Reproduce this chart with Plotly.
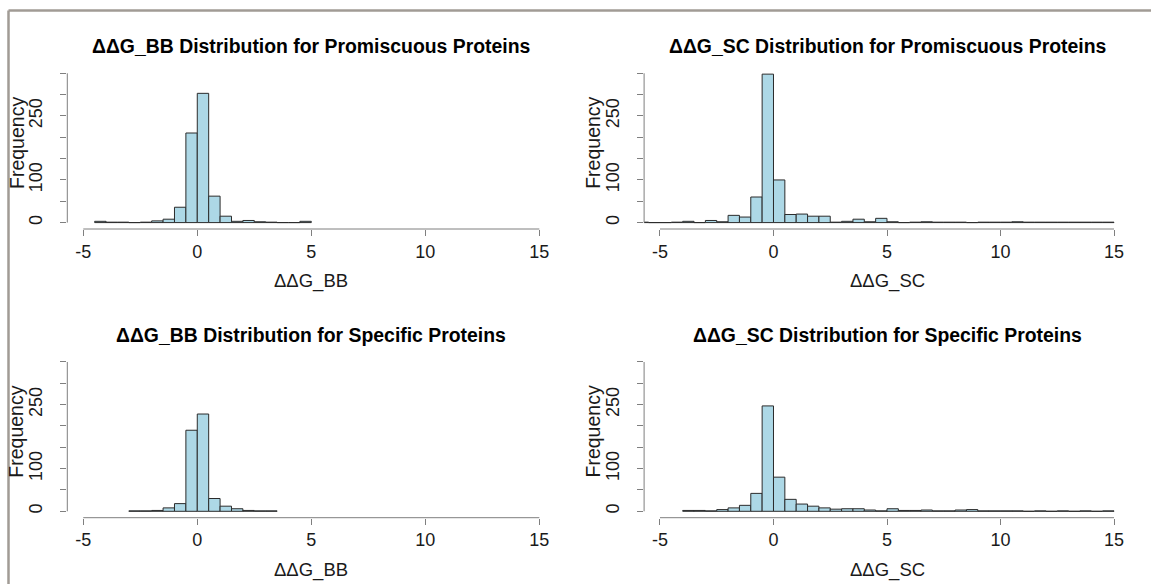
import plotly.graph_objects as go

W, H = 1151, 584
BIN_WIDTH = 0.5

# ---------------- data ----------------
titles = [
    "ΔΔG_BB Distribution for Promiscuous Proteins",
    "ΔΔG_SC Distribution for Promiscuous Proteins",
    "ΔΔG_BB Distribution for Specific Proteins",
    "ΔΔG_SC Distribution for Specific Proteins",
]
x_labels = ["ΔΔG_BB", "ΔΔG_SC", "ΔΔG_BB", "ΔΔG_SC"]
y_label = "Frequency"

# first bin left edge for each histogram
bb_prom_start = -4.5
bb_prom_counts = [3, 1, 1, 0, 1, 4, 8, 36, 210, 303, 62, 15, 3, 5, 2, 1, 0, 0, 3]

sc_prom_start = -6.0
sc_prom_counts = [1, 0, 0, 1, 3, 0, 5, 2, 17, 13, 60, 348, 100, 19, 20, 15, 15, 1,
                  3, 8, 2, 10, 2, 0, 1, 2, 1, 1, 1, 0, 1, 1, 1, 2, 1, 1, 1, 1,
                  1, 1, 1, 1]

bb_spec_start = -3.0
bb_spec_counts = [1, 1, 2, 8, 18, 190, 228, 30, 12, 6, 2, 1, 1]

sc_spec_start = -4.0
sc_spec_counts = [2, 2, 1, 4, 8, 14, 42, 247, 80, 28, 17, 12, 8, 5, 6, 6, 3, 1,
                  6, 2, 2, 3, 1, 1, 3, 4, 1, 1, 1, 1, 0, 1, 0, 1, 0, 1, 0, 1]

starts = [bb_prom_start, sc_prom_start, bb_spec_start, sc_spec_start]
counts = [bb_prom_counts, sc_prom_counts, bb_spec_counts, sc_spec_counts]

x_tick_vals = [-5, 0, 5, 10, 15]
x_tick_text = ["-5", "0", "5", "10", "15"]
y_tick_vals = [0, 50, 100, 150, 200, 250, 300, 350]
y_tick_text = ["0", "", "100", "", "", "250", "", ""]

# ---------------- layout geometry (pixels) ----------------
X_RANGE = [-5.7, 15.7]
Y_RANGE = [-15, 364]
col_px = [(67.3, 555.3), (644.1, 1129.9)]
row_px = [(67.3, 229.0), (356.0, 517.7)]

FONT = "Liberation Sans, Arial, Helvetica, sans-serif"
AXIS_COL = "#7f7f7f"
TEXT_COL = "#1a1a1a"

fig = go.Figure()
layout = dict(
    width=W, height=H,
    margin=dict(l=0, r=0, t=0, b=0),
    paper_bgcolor="white", plot_bgcolor="white",
    showlegend=False,
    font=dict(family=FONT, color=TEXT_COL),
)
annotations = []
shapes = []

for i in range(4):
    r, c = divmod(i, 2)
    s = "" if i == 0 else str(i + 1)
    x0p, x1p = col_px[c]
    ytop, ybot = row_px[r]

    centers = [starts[i] + BIN_WIDTH * (k + 0.5) for k in range(len(counts[i]))]
    fig.add_trace(go.Bar(
        x=centers, y=counts[i], width=BIN_WIDTH,
        marker=dict(color="#ADD8E6", line=dict(color="#2b2b2b", width=1)),
        xaxis="x" + s, yaxis="y" + s, hoverinfo="x+y",
    ))

    layout["xaxis" + s] = dict(
        domain=[x0p / W, x1p / W], range=X_RANGE, anchor="y" + s,
        tickmode="array", tickvals=x_tick_vals, ticktext=x_tick_text,
        ticks="outside", ticklen=6, tickcolor=AXIS_COL, tickwidth=1,
        showgrid=False, zeroline=False, showline=False,
        tickfont=dict(size=18, color=TEXT_COL, family=FONT),
        ticklabelstandoff=0,
    )
    layout["yaxis" + s] = dict(
        domain=[1 - ybot / H, 1 - ytop / H], range=Y_RANGE, anchor="x" + s,
        tickmode="array", tickvals=y_tick_vals, ticktext=y_tick_text,
        ticks="outside", ticklen=6, tickcolor=AXIS_COL, tickwidth=1,
        showgrid=False, zeroline=False, showline=False,
        tickangle=-90,
        tickfont=dict(size=18, color=TEXT_COL, family=FONT),
        ticklabelstandoff=11,
    )

    # R-style axis lines spanning only the tick range
    shapes.append(dict(type="line", xref="x" + s, yref="y" + s + " domain",
                       x0=x_tick_vals[0], x1=x_tick_vals[-1], y0=0, y1=0,
                       line=dict(color=AXIS_COL, width=1)))
    shapes.append(dict(type="line", xref="x" + s + " domain", yref="y" + s,
                       x0=0, x1=0, y0=y_tick_vals[0], y1=y_tick_vals[-1],
                       line=dict(color=AXIS_COL, width=1)))

    # titles and axis labels
    annotations.append(dict(
        text="<b>" + titles[i] + "</b>", xref="x" + s + " domain", x=0.5,
        yref="paper", y=1 - (ytop - 21) / H, xanchor="center", yanchor="middle",
        showarrow=False, font=dict(size=19.4, color="black", family=FONT)))
    annotations.append(dict(
        text=x_labels[i], xref="x" + s + " domain", x=0.5,
        yref="paper", y=1 - (ybot + 52) / H, xanchor="center", yanchor="middle",
        showarrow=False, font=dict(size=18.5, color=TEXT_COL, family=FONT)))
    annotations.append(dict(
        text=y_label, xref="paper", x=(x0p - 51) / W,
        yref="paper", y=1 - (ytop + 75.4) / H, xanchor="center", yanchor="middle",
        textangle=-90, showarrow=False,
        font=dict(size=19.5, color=TEXT_COL, family=FONT)))

# outer frame (top and left edges of the screenshot window)
shapes.append(dict(type="line", xref="paper", yref="paper",
                   x0=8.5 / W, x1=1.0, y0=1 - 10.5 / H, y1=1 - 10.5 / H,
                   line=dict(color="#a19b95", width=2.5)))
shapes.append(dict(type="line", xref="paper", yref="paper",
                   x0=8.5 / W, x1=8.5 / W, y0=0, y1=1 - 10.5 / H,
                   line=dict(color="#a19b95", width=2.5)))

layout["annotations"] = annotations
layout["shapes"] = shapes
fig.update_layout(**layout)
fig.write_html("out.html")
